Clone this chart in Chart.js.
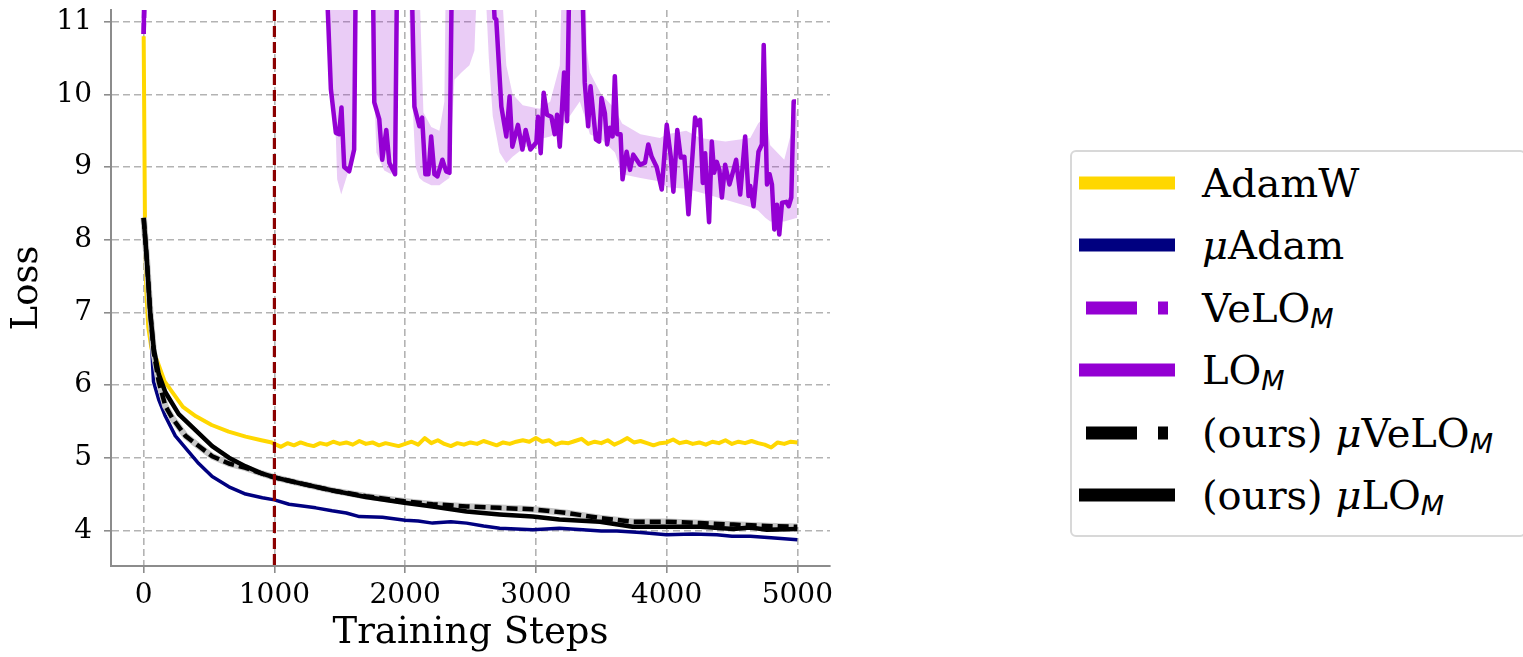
<!DOCTYPE html>
<html>
<head>
<meta charset="utf-8">
<title>Loss vs training steps</title>
<script src="https://cdn.jsdelivr.net/npm/chart.js@4.4.0/dist/chart.umd.min.js"></script>
<style>
  html, body { margin: 0; padding: 0; background: #fff; }
  body { width: 1523px; height: 657px; position: relative; overflow: hidden; }
  #lossChart { position: absolute; left: 0; top: 0; }
  #legend {
    position: absolute; left: 1070px; top: 150px; width: 456px; height: 387px;
    box-sizing: border-box; border: 2px solid #d8d8d8; border-radius: 6px; background: #fff;
  }
  .row {
    position: absolute; left: 7px; height: 40px; display: flex; align-items: center;
    font-family: 'DejaVu Serif', serif; font-size: 40px; line-height: 40px; color: #000; white-space: nowrap;
  }
  .row svg { flex: none; margin-right: 27px; }
  .mu { font-style: italic; }
  .row sub { font-family: 'DejaVu Sans', sans-serif; font-style: italic; font-size: 27px; vertical-align: -6px; line-height: 0; }
</style>
</head>
<body>
<canvas id="lossChart" width="850" height="657"></canvas>
<div id="legend"></div>

<script>
// Loss curves over training steps

const seriesNames = ['AdamW', 'μAdam', 'VeLO_M', 'LO_M', '(ours) μVeLO_M', '(ours) μLO_M'];

const xTicks = [0, 1000, 2000, 3000, 4000, 5000];
const yTicks = [4, 5, 6, 7, 8, 9, 10, 11];
const warmupStep = 1000;

const adamwSteps = [
    0, 10, 20, 35, 60, 100, 160, 220, 300, 400, 520, 650, 780, 900, 980,
    1000, 1050, 1100, 1150, 1200, 1250, 1300, 1350, 1400, 1450,
    1500, 1550, 1600, 1650, 1700, 1750, 1800, 1850, 1900, 1950,
    2000, 2050, 2100, 2150, 2200, 2250, 2300, 2350, 2400, 2450,
    2500, 2550, 2600, 2650, 2700, 2750, 2800, 2850, 2900, 2950,
    3000, 3050, 3100, 3150, 3200, 3250, 3300, 3350, 3400, 3450,
    3500, 3550, 3600, 3650, 3700, 3750, 3800, 3850, 3900, 3950,
    4000, 4050, 4100, 4150, 4200, 4250, 4300, 4350, 4400, 4450,
    4500, 4550, 4600, 4650, 4700, 4750, 4800, 4850, 4900, 4950, 5000
];
const adamwLoss = [
    10.8, 8.2, 7.3, 6.8, 6.5, 6.35, 6.05, 5.9, 5.7, 5.57, 5.45, 5.36, 5.29, 5.24, 5.21,
    5.19, 5.15, 5.2, 5.17, 5.21, 5.18, 5.16, 5.2, 5.18, 5.22,
    5.19, 5.21, 5.18, 5.23, 5.19, 5.21, 5.17, 5.2, 5.18, 5.16,
    5.19, 5.22, 5.18, 5.27, 5.2, 5.24, 5.19, 5.16, 5.2, 5.18,
    5.21, 5.19, 5.23, 5.2, 5.17, 5.21, 5.19, 5.22, 5.24, 5.22,
    5.27, 5.22, 5.24, 5.18, 5.21, 5.2, 5.23, 5.26, 5.19, 5.22,
    5.2, 5.24, 5.18, 5.22, 5.27, 5.21, 5.23, 5.2, 5.17, 5.2,
    5.21, 5.25, 5.2, 5.22, 5.19, 5.21, 5.18, 5.22, 5.2, 5.24,
    5.19, 5.22, 5.2, 5.23, 5.2, 5.18, 5.14, 5.21, 5.19, 5.22, 5.21
];

const muAdamSteps = [
    0, 25, 50, 75, 115, 166, 242, 345, 421, 524,
    652, 780, 908, 1000, 1112, 1200, 1316, 1441, 1550, 1650,
    1826, 2000, 2100, 2210, 2350, 2470, 2600, 2723, 2850, 2976,
    3180, 3360, 3500, 3620, 3800, 4000, 4200, 4385, 4500, 4640,
    4800, 5000
];
const muAdamLoss = [
    8.2, 7.6, 6.9, 6.05, 5.8, 5.57, 5.3, 5.08, 4.92, 4.74,
    4.6, 4.5, 4.45, 4.42, 4.36, 4.34, 4.31, 4.27, 4.24, 4.19,
    4.18, 4.14, 4.13, 4.1, 4.12, 4.1, 4.06, 4.03, 4.02, 4.01,
    4.03, 4.01, 3.99, 3.99, 3.97, 3.94, 3.95, 3.94, 3.92, 3.92,
    3.9, 3.87
];

// VeLO_M stays above the visible range after the first step
const veloSteps = [0, 30, 500, 1500, 2500, 3500, 4500, 5000];
const veloLoss = [10.83, 13.0, 13.5, 12.8, 12.5, 12.2, 12.0, 11.9];

const loSteps = [
    0, 20, 300, 700, 1100, 1390, 1432, 1470, 1495, 1513,
    1534, 1572, 1610, 1624, 1690, 1751, 1764, 1802, 1825, 1856,
    1879, 1923, 1940, 1990, 2045, 2071, 2109, 2130, 2155, 2178,
    2199, 2224, 2247, 2285, 2314, 2339, 2360, 2500, 2659, 2684,
    2697, 2736, 2774, 2799, 2820, 2863, 2897, 2922, 2958, 3004,
    3016, 3037, 3060, 3085, 3119, 3144, 3162, 3183, 3216, 3239,
    3259, 3300, 3349, 3374, 3400, 3418, 3459, 3484, 3502, 3528,
    3545, 3566, 3587, 3604, 3622, 3648, 3663, 3694, 3720, 3745,
    3771, 3796, 3835, 3860, 3886, 3924, 3963, 4001, 4032, 4052,
    4082, 4108, 4136, 4167, 4218, 4236, 4256, 4277, 4295, 4308,
    4325, 4346, 4364, 4384, 4404, 4423, 4448, 4481, 4512, 4532,
    4563, 4601, 4627, 4640, 4665, 4703, 4729, 4743, 4768, 4788,
    4806, 4824, 4844, 4862, 4883, 4916, 4934, 4954, 4972, 4990
];
const loLoss = [
    10.83, 13.5, 14.2, 13.6, 13.0, 12.0, 10.07, 9.47, 9.45, 9.82,
    9.0, 8.94, 9.24, 12.0, 13.2, 12.0, 9.89, 9.66, 9.1, 9.51,
    9.06, 8.9, 12.0, 12.8, 12.0, 9.83, 9.56, 9.68, 8.9, 8.9,
    9.42, 8.9, 8.87, 9.1, 8.94, 8.92, 12.0, 13.0, 12.0, 11.05,
    11.03, 9.83, 9.42, 9.97, 9.28, 9.58, 9.24, 9.51, 9.24, 9.34,
    9.69, 9.19, 10.02, 9.72, 9.69, 9.45, 9.72, 9.28, 10.3, 9.63,
    12.0, 12.6, 12.0, 10.16, 9.56, 10.11, 9.38, 9.35, 9.95, 9.74,
    9.31, 9.54, 9.42, 10.25, 9.45, 9.45, 8.83, 9.21, 8.96, 9.17,
    9.1, 9.03, 9.06, 9.31, 9.14, 9.0, 8.69, 9.58, 9.14, 8.66,
    9.51, 9.13, 9.14, 8.35, 9.68, 9.58, 9.65, 8.78, 9.19, 8.74,
    8.24, 9.35, 8.92, 9.07, 8.96, 8.58, 9.03, 8.76, 8.96, 9.1,
    8.62, 9.42, 8.6, 8.74, 8.46, 9.21, 9.31, 10.68, 8.76, 8.9,
    8.76, 8.14, 8.48, 8.07, 8.51, 8.52, 8.46, 8.58, 9.9, 9.9
];

// spread of LO_M across seeds
const loBandSteps = [
    0, 20, 1400, 1419, 1470, 1480, 1511, 1547, 1595, 1624,
    1640, 1740, 1755, 1780, 1840, 1894, 1940, 1960, 2015, 2040,
    2080, 2109, 2140, 2200, 2262, 2300, 2339, 2377, 2431, 2492,
    2530, 2560, 2600, 2640, 2670, 2722, 2774, 2822, 2900, 3029,
    3110, 3183, 3260, 3336, 3390, 3413, 3500, 3605, 3660, 3800,
    3950, 4003, 4150, 4257, 4450, 4640, 4700, 4755, 4793, 4900,
    5000
];
const loBandLow = [
    10.83, 14, 14, 10.8, 9.4, 8.83, 8.62, 8.83, 9.1, 10.5,
    13, 13, 10.5, 9.2, 8.95, 8.9, 9.8, 13, 13, 10.5,
    9.0, 8.85, 8.8, 8.75, 8.75, 8.8, 8.85, 10.2, 10.3, 10.4,
    10.6, 12, 12, 10.5, 9.7, 9.2, 9.05, 9.14, 9.25, 9.38,
    9.42, 9.5, 9.7, 9.9, 9.6, 9.45, 9.38, 9.2, 8.9, 8.85,
    8.8, 8.72, 8.7, 8.65, 8.55, 8.45, 8.4, 8.3, 8.25, 8.25,
    8.3
];
const loBandHigh = [
    10.83, 16, 16, 16, 16, 16, 16, 16, 16, 16,
    16, 16, 16, 16, 16, 16, 16, 16, 16, 16,
    16, 11.5, 9.75, 9.55, 9.5, 9.9, 16, 16, 16, 16,
    16, 16, 16, 16, 16, 12, 10.4, 10.0, 9.85, 9.8,
    9.9, 10.4, 16, 16, 10.6, 10.3, 10.0, 9.8, 9.6, 9.45,
    9.4, 9.45, 9.5, 9.4, 9.35, 9.4, 9.6, 9.7, 9.3, 9.1,
    9.8
];

const muVeloSteps = [
    0, 25, 50, 77, 115, 166, 217, 320, 421, 524,
    652, 780, 908, 1000, 1189, 1441, 1700, 1994, 2210, 2470,
    2723, 2976, 3237, 3490, 3740, 4000, 4257, 4512, 4768, 5000
];
const muVeloLoss = [
    8.3, 7.7, 7.0, 6.45, 6.05, 5.71, 5.55, 5.3, 5.16, 5.02,
    4.92, 4.86, 4.78, 4.73, 4.65, 4.55, 4.47, 4.4, 4.36, 4.33,
    4.31, 4.29, 4.24, 4.17, 4.12, 4.12, 4.1, 4.08, 4.06, 4.05
];

const muLoSteps = [
    0, 25, 50, 77, 115, 166, 268, 396, 524, 652,
    780, 908, 1000, 1189, 1441, 1700, 1994, 2210, 2470, 2723,
    2976, 3180, 3490, 3740, 4000, 4257, 4512, 4640, 4768, 5000
];
const muLoLoss = [
    8.3, 7.7, 7.0, 6.5, 6.15, 5.9, 5.6, 5.38, 5.16, 5.0,
    4.88, 4.78, 4.73, 4.65, 4.55, 4.46, 4.38, 4.33, 4.26, 4.22,
    4.19, 4.15, 4.12, 4.05, 4.05, 4.05, 4.02, 4.04, 4.01, 4.02
];

const COLORS = {
    adamw: '#ffd700',
    muAdam: '#000080',
    lo: '#9400d3',
    loBand: 'rgba(148, 0, 211, 0.2)',
    ours: '#000000',
    oursShade: '#c6c6c6',
    warmup: '#8b0000',
    grid: '#b3b3b3',
    spine: '#8c8c8c'
};
const seriesColors = [COLORS.adamw, COLORS.muAdam, COLORS.lo, COLORS.lo, COLORS.ours, COLORS.ours];
const seriesDashed = [false, false, true, false, true, false];

const serif = 'DejaVu Serif';

function toPoints(steps, values) {
    return steps.map((s, i) => ({ x: s, y: values[i] }));
}

function lineDataset(label, steps, values, color, width, order, dash) {
    return {
        label: label,
        data: toPoints(steps, values),
        borderColor: color,
        backgroundColor: color,
        borderWidth: width,
        borderDash: dash || [],
        borderJoinStyle: 'round',
        pointRadius: 0,
        tension: 0,
        fill: false,
        clip: 0,
        order: order
    };
}

// dashed marker for the end of warmup
const warmupLine = {
    id: 'warmupLine',
    afterDatasetsDraw(chart) {
        const { ctx, chartArea, scales } = chart;
        const x = scales.x.getPixelForValue(warmupStep);
        ctx.save();
        ctx.strokeStyle = COLORS.warmup;
        ctx.lineWidth = 3.2;
        ctx.setLineDash([11, 5]);
        ctx.beginPath();
        ctx.moveTo(x, chartArea.top);
        ctx.lineTo(x, chartArea.bottom);
        ctx.stroke();
        ctx.restore();
    }
};

function axisGrid() {
    return {
        color: COLORS.grid,
        lineWidth: 1.6,
        tickLength: 7,
        tickColor: COLORS.spine,
        tickWidth: 1.6
    };
}

const lossChart = new Chart(document.getElementById('lossChart'), {
    type: 'line',
    data: {
        datasets: [
            {
                label: 'LO band upper',
                data: toPoints(loBandSteps, loBandHigh),
                borderColor: 'rgba(0,0,0,0)',
                borderWidth: 0,
                pointRadius: 0,
                tension: 0,
                fill: false,
                clip: 0,
                order: 20
            },
            {
                label: 'LO band lower',
                data: toPoints(loBandSteps, loBandLow),
                borderColor: 'rgba(0,0,0,0)',
                borderWidth: 0,
                backgroundColor: COLORS.loBand,
                pointRadius: 0,
                tension: 0,
                fill: '-1',
                clip: 0,
                order: 20
            },
            lineDataset(seriesNames[0], adamwSteps, adamwLoss, COLORS.adamw, 4, 9),
            lineDataset(seriesNames[1], muAdamSteps, muAdamLoss, COLORS.muAdam, 3.5, 8),
            lineDataset(seriesNames[2], veloSteps, veloLoss, COLORS.lo, 4.5, 7, [11, 5]),
            lineDataset(seriesNames[3], loSteps, loLoss, COLORS.lo, 4.5, 6),
            lineDataset('μVeLO shade', muVeloSteps, muVeloLoss, COLORS.oursShade, 6.5, 5),
            lineDataset(seriesNames[4], muVeloSteps, muVeloLoss, COLORS.ours, 4.5, 4, [11, 5]),
            lineDataset(seriesNames[5], muLoSteps, muLoLoss, COLORS.ours, 4.5, 3)
        ]
    },
    options: {
        responsive: false,
        animation: false,
        devicePixelRatio: 1,
        layout: {
            padding: { top: 10, right: 20, left: 0, bottom: 0 }
        },
        plugins: {
            legend: { display: false },
            tooltip: { enabled: false }
        },
        scales: {
            x: {
                type: 'linear',
                min: -250,
                max: 5250,
                afterFit: function(scale) {
                    scale.height = 91;
                    scale.paddingLeft = 0;
                    scale.paddingRight = 0;
                },
                afterBuildTicks: function(scale) {
                    scale.ticks = xTicks.map(v => ({ value: v }));
                },
                grid: axisGrid(),
                border: { color: COLORS.spine, width: 2, dash: [7, 4] },
                ticks: {
                    color: '#000',
                    padding: 6,
                    font: { family: serif, size: 28 },
                    callback: function(value) { return String(value); }
                },
                title: {
                    display: true,
                    text: 'Training Steps',
                    color: '#000',
                    font: { family: serif, size: 37 },
                    padding: { top: 0, bottom: 1 }
                }
            },
            y: {
                type: 'linear',
                min: 3.51,
                max: 11.16,
                afterFit: function(scale) {
                    scale.width = 111;
                    scale.paddingTop = 0;
                    scale.paddingBottom = 0;
                },
                afterBuildTicks: function(scale) {
                    scale.ticks = yTicks.map(v => ({ value: v }));
                },
                grid: axisGrid(),
                border: { color: COLORS.spine, width: 2, dash: [7, 4] },
                ticks: {
                    color: '#000',
                    padding: 12,
                    font: { family: serif, size: 28 },
                    callback: function(value) { return String(value); }
                },
                title: {
                    display: true,
                    text: 'Loss',
                    color: '#000',
                    font: { family: serif, size: 37 },
                    padding: { top: 5, bottom: 0 }
                }
            }
        }
    },
    plugins: [warmupLine]
});

// legend with math-style labels
function labelHtml(name) {
    return name
        .replace(/μ/g, '<span class="mu">μ</span>')
        .replace(/_M/g, '<sub>M</sub>');
}

function sampleSvg(color, dashed) {
    const line = dashed
        ? `<line x1="7" y1="7" x2="89" y2="7" stroke="${color}" stroke-width="13" stroke-dasharray="51 21"/>`
        : `<line x1="0" y1="7" x2="96" y2="7" stroke="${color}" stroke-width="13"/>`;
    return `<svg width="96" height="14" viewBox="0 0 96 14">${line}</svg>`;
}

function buildLegend() {
    const box = document.getElementById('legend');
    const firstCenter = 182.7 - 152;
    const rowGap = 62.5;
    seriesNames.forEach((name, i) => {
        const row = document.createElement('div');
        row.className = 'row';
        row.style.top = (firstCenter + i * rowGap - 20) + 'px';
        row.innerHTML = sampleSvg(seriesColors[i], seriesDashed[i]) + '<span>' + labelHtml(name) + '</span>';
        box.appendChild(row);
    });
}

buildLegend();
</script>
</body>
</html>
